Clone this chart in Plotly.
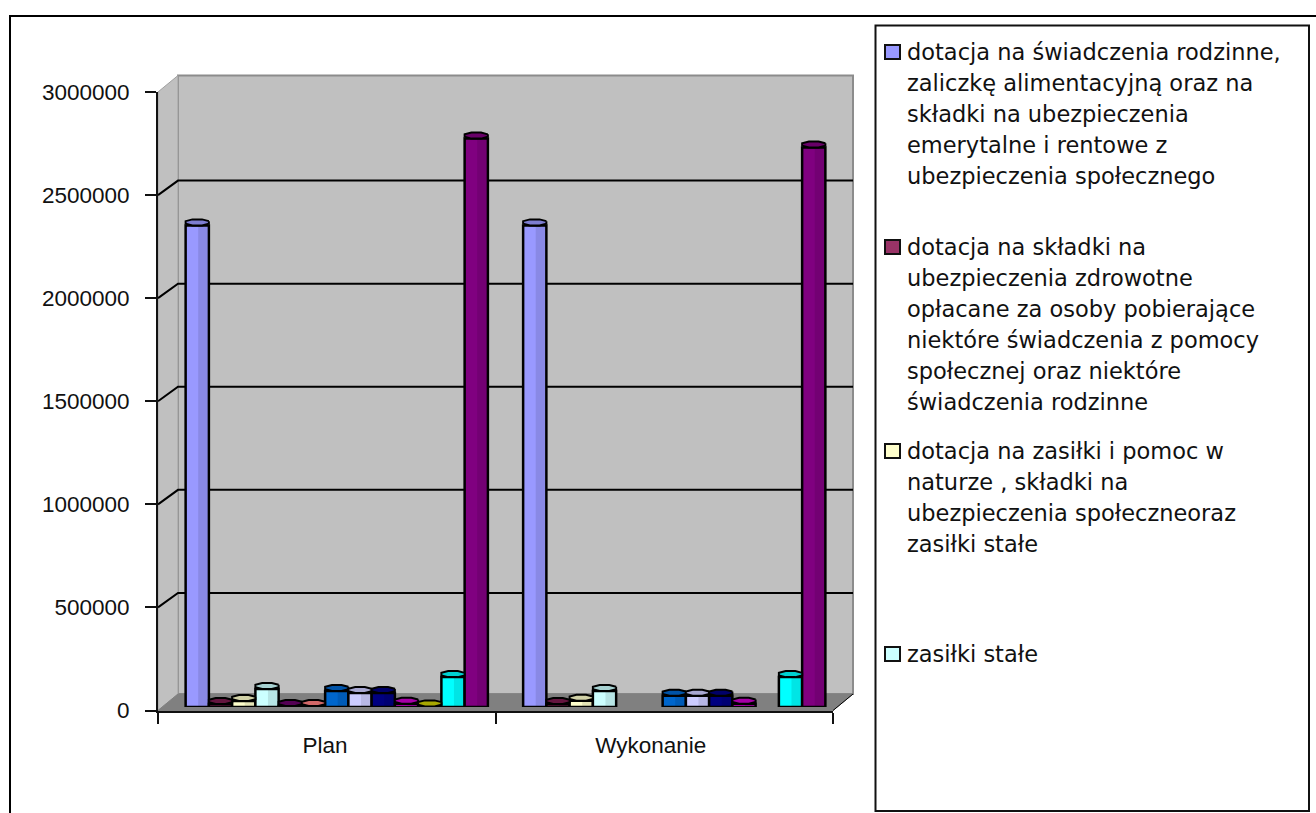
import math
import plotly.graph_objects as go

W, H = 1316, 813

groups = ["Plan", "Wykonanie"]
colors = ["#9999FF", "#7A1A4E", "#FFFFCC", "#CCFFFF", "#660066", "#FF8080", "#0066CC",
          "#CCCCFF", "#000080", "#CC00CC", "#CCCC00", "#00FFFF", "#800080"]
plan_values = [2336000, 15000, 29000, 87000, 5000, 5000, 78000,
               68000, 68000, 16000, 3000, 145000, 2757000]
done_values = [2336000, 15000, 30000, 78000, None, None, 55000,
               55000, 55000, 16000, None, 145000, 2714000]
y_ticks = [0, 500000, 1000000, 1500000, 2000000, 2500000, 3000000]

legend_entries = [
    ("#9999FF", 52, ["dotacja na świadczenia rodzinne,", "zaliczkę alimentacyjną oraz na",
                     "składki na ubezpieczenia", "emerytalne i rentowe z",
                     "ubezpieczenia społecznego"]),
    ("#993366", 247, ["dotacja na składki na", "ubezpieczenia zdrowotne",
                      "opłacane za osoby pobierające", "niektóre świadczenia z pomocy",
                      "społecznej oraz niektóre", "świadczenia rodzinne"]),
    ("#FFFFCC", 451, ["dotacja na zasiłki i pomoc w", "naturze , składki na",
                      "ubezpieczenia społeczneoraz", "zasiłki stałe"]),
    ("#CCFFFF", 654, ["zasiłki stałe"]),
]

# Pixel frame of the pseudo-3D chart box
LEFT, RIGHT = 158, 833
BOTTOM, TOP = 710.5, 92
DX, DY = 20, 16.5
GRID_DY = 14.5
BAR_DX, BAR_BASE = 10, 707
BAR_W = 23.25 / 337.5
CAP_H = 6.0
PX_VALUE = 3000000 / (BOTTOM - TOP)
AXIS_FONT = "Liberation Sans"
LEGEND_FONT = "DejaVu Sans"


def px(x):
    return x / W


def py(y):
    return 1 - y / H


def poly(points):
    body = " L ".join(f"{px(x):.5f} {py(y):.5f}" for x, y in points)
    return f"M {body} Z"


shapes = [
    dict(type="path", xref="paper", yref="paper", layer="below", path=poly(
        [(LEFT + DX, TOP - DY), (RIGHT + DX, TOP - DY), (RIGHT + DX, BOTTOM - DY), (LEFT + DX, BOTTOM - DY)]),
        fillcolor="#C0C0C0", line=dict(color="#8C8C8C", width=2)),
    dict(type="path", xref="paper", yref="paper", layer="below", path=poly(
        [(LEFT, TOP), (LEFT + DX, TOP - DY), (LEFT + DX, BOTTOM - DY), (LEFT, BOTTOM)]),
        fillcolor="#C0C0C0", line=dict(color="#A0A0A0", width=1)),
    dict(type="path", xref="paper", yref="paper", layer="below", path=poly(
        [(LEFT, BOTTOM), (LEFT + DX, BOTTOM - DY), (RIGHT + DX, BOTTOM - DY), (RIGHT, BOTTOM)]),
        fillcolor="#808080", line=dict(color="#808080", width=1)),
    # Outer chart frame, open at the right and bottom
    dict(type="line", xref="paper", yref="paper", layer="below", x0=px(10), x1=1, y0=py(16), y1=py(16),
         line=dict(color="#000000", width=2)),
    dict(type="line", xref="paper", yref="paper", layer="below", x0=px(10), x1=px(10), y0=py(15), y1=0,
         line=dict(color="#000000", width=2)),
    # Legend box
    dict(type="rect", xref="paper", yref="paper", layer="below", x0=px(875.5), x1=px(1309), y0=py(25.5), y1=py(811),
         fillcolor="#FFFFFF", line=dict(color="#111111", width=2)),
]

# Gridlines run along the side wall and then across the back wall
for tick in y_ticks[1:-1]:
    y = BOTTOM - tick / PX_VALUE
    shapes.append(dict(type="path", xref="paper", yref="paper", layer="below",
                       path=f"M {px(LEFT):.5f} {py(y):.5f} L {px(LEFT + DX):.5f} {py(y - GRID_DY):.5f} L {px(RIGHT + DX):.5f} {py(y - GRID_DY):.5f}",
                       line=dict(color="#000000", width=2)))
# Right-hand edge of the floor
shapes.append(dict(type="line", xref="paper", yref="paper", layer="below",
                   x0=px(RIGHT), y0=py(BOTTOM), x1=px(RIGHT + DX), y1=py(BOTTOM - DY),
                   line=dict(color="#000000", width=1)))

annotations = []
for color, y0, lines in legend_entries:
    shapes.append(dict(type="rect", xref="paper", yref="paper", x0=px(885), x1=px(900), y0=py(y0 - 7), y1=py(y0 + 7),
                       fillcolor=color, line=dict(color="#111111", width=2)))
    for i, line in enumerate(lines):
        annotations.append(dict(xref="paper", yref="paper", x=px(905), y=py(y0 + i * 31), text=line,
                                showarrow=False, xanchor="left", yanchor="middle",
                                font=dict(family=LEGEND_FONT, size=22.5, color="#111111")))

fig = go.Figure()
slots = [k - 6 for k in range(len(colors))]


def cap_outline(values, k):
    xs, ys = [], []
    for g, value in enumerate(values):
        if value is None:
            continue
        xc = g + 0.5 + slots[k] * BAR_W
        mid = value + CAP_H / 2 * PX_VALUE
        for step in range(8):
            a = 2 * math.pi * (step + 0.5) / 8
            xs.append(xc + BAR_W / 2 * math.cos(a) / math.cos(math.pi / 8))
            ys.append(mid + CAP_H / 2 * PX_VALUE * math.sin(a) / math.sin(3 * math.pi / 8))
        xs.append(xs[-8])
        ys.append(ys[-8])
        xs.append(None)
        ys.append(None)
    return xs, ys


def shade(hex_color, factor):
    r, g, b = (int(hex_color[i:i + 2], 16) for i in (1, 3, 5))
    return f"rgb({int(r * factor)},{int(g * factor)},{int(b * factor)})"


# An empty trace keeps the front axes on the page
fig.add_trace(go.Scatter(x=[None], y=[None], xaxis="x", yaxis="y", mode="lines", showlegend=False))

for k, color in enumerate(colors):
    vals = [plan_values[k], done_values[k]]
    xpos = [g + 0.5 + slots[k] * BAR_W for g in range(2)]
    fig.add_trace(go.Bar(x=xpos, y=vals, width=BAR_W, xaxis="x2", yaxis="y2", showlegend=False,
                         marker=dict(color=color, line=dict(color="#000000", width=2.5))))
# Darker strip down the right of each bar for the rounded look
for k, color in enumerate(colors):
    vals = [plan_values[k], done_values[k]]
    xpos = [g + 0.5 + (slots[k] + 0.24) * BAR_W for g in range(2)]
    fig.add_trace(go.Bar(x=xpos, y=vals, width=BAR_W * 0.4, xaxis="x2", yaxis="y2", showlegend=False,
                         marker=dict(color="rgba(0,0,0,0.10)", line=dict(width=0))))
for k, color in enumerate(colors):
    xs, ys = cap_outline([plan_values[k], done_values[k]], k)
    fig.add_trace(go.Scatter(x=xs, y=ys, xaxis="x2", yaxis="y2", mode="lines", fill="toself", showlegend=False,
                             fillcolor=shade(color, 0.82), line=dict(color="#000000", width=2)))

fig.update_layout(
    width=W, height=H, autosize=False,
    margin=dict(l=0, r=0, t=0, b=0),
    paper_bgcolor="#FFFFFF", plot_bgcolor="rgba(0,0,0,0)",
    barmode="overlay", showlegend=False,
    font=dict(family=AXIS_FONT, size=22.5, color="#111111"),
    shapes=shapes, annotations=annotations,
    xaxis=dict(domain=[px(LEFT), px(RIGHT)], range=[0, 2], anchor="y", automargin=False,
               tickmode="array", tickvals=[0.495, 1.46], ticktext=groups, ticks="",
               showgrid=False, zeroline=False, showline=True, linecolor="#111111", linewidth=2,
               ticklabelstandoff=13,
               minor=dict(tickmode="array", tickvals=[0, 1, 2], ticks="outside", ticklen=11,
                          tickwidth=2, tickcolor="#111111", showgrid=False)),
    yaxis=dict(domain=[py(BOTTOM), py(TOP)], range=[0, 3000000], anchor="x", automargin=False,
               tickmode="array", tickvals=y_ticks, ticktext=[str(t) for t in y_ticks],
               ticks="outside", ticklen=11, tickwidth=2, tickcolor="#111111",
               showgrid=False, zeroline=False, showline=True, linecolor="#111111", linewidth=2,
               ticklabelstandoff=11),
    xaxis2=dict(domain=[px(LEFT + BAR_DX), px(RIGHT + BAR_DX)], range=[0, 2], anchor="y2", visible=False, automargin=False),
    yaxis2=dict(domain=[py(BAR_BASE), py(BAR_BASE - (BOTTOM - TOP))], range=[0, 3000000], anchor="x2", visible=False, automargin=False),
)

fig.write_html("out.html")
